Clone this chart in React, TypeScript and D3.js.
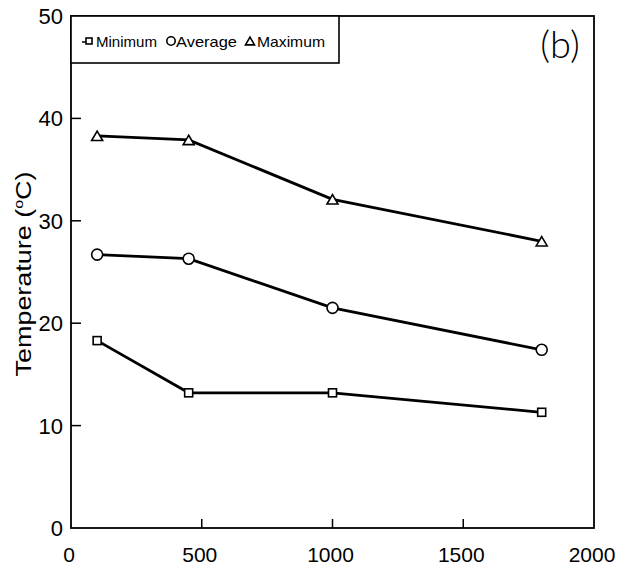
import React from "react";
import * as d3 from "d3";

const elevations = [100, 450, 1000, 1800];
const minimumTemp = [18.3, 13.2, 13.2, 11.3];
const averageTemp = [26.7, 26.3, 21.5, 17.4];
const maximumTemp = [38.3, 37.9, 32.1, 28.0];
const xTicks = [0, 500, 1000, 1500, 2000];
const yTicks = [0, 10, 20, 30, 40, 50];
const seriesNames = ["Minimum", "Average", "Maximum"];

const W = 630, H = 568;
const x0 = 71, x1 = 594, y0 = 528, y1 = 16;

export default function App() {
  const x = d3.scaleLinear().domain([0, 2000]).range([x0, x1]);
  const y = d3.scaleLinear().domain([0, 50]).range([y0, y1]);
  const line = d3.line<number>().x((_, i) => x(elevations[i])).y((d) => y(d));
  const font = "'Liberation Sans', Arial, sans-serif";

  const square = (cx: number, cy: number, s: number, k: string) => (
    <rect key={k} x={cx - s / 2} y={cy - s / 2} width={s} height={s} fill="white" stroke="black" strokeWidth={1.6} />
  );
  const circle = (cx: number, cy: number, r: number, k: string) => (
    <circle key={k} cx={cx} cy={cy} r={r} fill="white" stroke="black" strokeWidth={1.6} />
  );
  const tri = (cx: number, cy: number, s: number, k: string) => {
    const h = s * 0.85;
    return (
      <path key={k} d={`M${cx},${cy - h / 2}L${cx + s / 2},${cy + h / 2}L${cx - s / 2},${cy + h / 2}Z`} fill="white" stroke="black" strokeWidth={1.6} />
    );
  };

  const series = [minimumTemp, averageTemp, maximumTemp];

  return (
    <svg width={W} height={H} style={{ position: "absolute", left: 0, top: 0, background: "white" }}>
      <rect x={0} y={0} width={W} height={H} fill="white" />
      {/* frame */}
      <rect x={x0} y={y1} width={x1 - x0} height={y0 - y1} fill="none" stroke="black" strokeWidth={1.8} />
      {/* y ticks */}
      {yTicks.map((t) => (
        <g key={"y" + t}>
          {t > 0 && t < 50 && <line x1={x0} x2={x0 + 10} y1={y(t)} y2={y(t)} stroke="black" strokeWidth={1.5} />}
          <text x={x0 - 8} y={y(t)} dy="0.36em" textAnchor="end" fontFamily={font} fontSize={22}>{t}</text>
        </g>
      ))}
      {/* x ticks */}
      {xTicks.map((t) => (
        <g key={"x" + t}>
          {t > 0 && t < 2000 && <line x1={x(t)} x2={x(t)} y1={y0} y2={y0 - 9} stroke="black" strokeWidth={1.5} />}
          <text x={x(t) - 2} y={562} textAnchor="middle" fontFamily={font} fontSize={21}>{t}</text>
        </g>
      ))}
      {/* y label */}
      <text transform={`translate(31,${274}) rotate(-90)`} textAnchor="middle" fontFamily={font} fontSize={22} textLength={205} lengthAdjust="spacingAndGlyphs">
        Temperature (<tspan fontSize={13} dy={-8}>o</tspan><tspan dy={8}>C)</tspan>
      </text>
      {/* lines */}
      {series.map((s, i) => (
        <path key={"l" + i} d={line(s) || ""} fill="none" stroke="black" strokeWidth={2.8} />
      ))}
      {/* markers */}
      {minimumTemp.map((v, i) => square(x(elevations[i]), y(v), 8, "s" + i))}
      {averageTemp.map((v, i) => circle(x(elevations[i]), y(v), 5.5, "c" + i))}
      {maximumTemp.map((v, i) => tri(x(elevations[i]), y(v), 11, "t" + i))}
      {/* legend */}
      <rect x={x0} y={y1} width={339 - x0} height={63 - y1} fill="white" stroke="black" strokeWidth={1.6} />
      <line x1={82} x2={88} y1={42} y2={42} stroke="black" strokeWidth={1.5} />
      {square(89, 41, 6, "ls")}
      <text x={96} y={47} fontFamily={font} fontSize={15} textLength={61} lengthAdjust="spacingAndGlyphs">{seriesNames[0]}</text>
      {circle(171, 41, 4.2, "lc")}
      <text x={176} y={47} fontFamily={font} fontSize={15} textLength={61} lengthAdjust="spacingAndGlyphs">{seriesNames[1]}</text>
      {tri(250, 41, 9, "lt")}
      <text x={257} y={47} fontFamily={font} fontSize={15} textLength={68} lengthAdjust="spacingAndGlyphs">{seriesNames[2]}</text>
      {/* panel label */}
      <text x={560} y={58} textAnchor="middle" fontFamily="Lato, 'DejaVu Sans', sans-serif" fontWeight={300} fontSize={38}>(b)</text>
    </svg>
  );
}
